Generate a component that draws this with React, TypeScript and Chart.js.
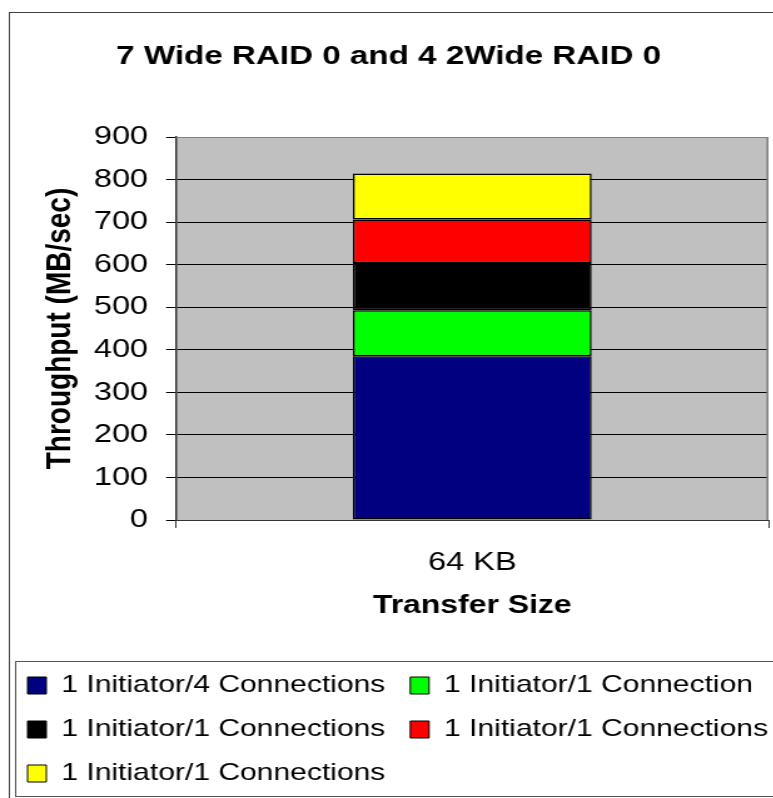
import React, { useEffect, useRef } from 'react';
import { Chart, registerables } from 'chart.js';

Chart.register(...registerables);

// ---- data ----
const categories = ['64 KB'];
const seriesLabels = [
  '1 Initiator/4 Connections',
  '1 Initiator/1 Connection',
  '1 Initiator/1 Connections',
  '1 Initiator/1 Connections',
  '1 Initiator/1 Connections',
];
const seriesColors = ['#000080', '#00FF00', '#000000', '#FF0000', '#FFFF00'];
const blueSeries = [385];
const greenSeries = [108];
const blackSeries = [111];
const redSeries = [102];
const yellowSeries = [108];
const yMin = 0;
const yMax = 900;
const yStep = 100;
const chartTitle = '7 Wide RAID 0 and 4 2Wide RAID 0';
const xTitle = 'Transfer Size';
const yTitle = 'Throughput (MB/sec)';

// ---- layout ----
const VIEW_W = 773;
const LOGICAL_VIEW_W = 618;
const SX = VIEW_W / LOGICAL_VIEW_W;
const CW = 640;
const CH = 798;
const FONT = '"Liberation Sans", Arial, Helvetica, sans-serif';

const framePlugin = {
  id: 'frame',
  afterLayout(chart: any) {
    const tb = chart.titleBlock;
    if (tb) {
      tb.left = 0;
      tb.right = LOGICAL_VIEW_W + 3;
    }
  },
  beforeDraw(chart: any) {
    const { ctx, chartArea: a } = chart;
    ctx.save();
    ctx.fillStyle = '#ffffff';
    ctx.fillRect(0, 0, chart.width, chart.height);
    ctx.strokeStyle = '#404040';
    ctx.lineWidth = 1;
    ctx.strokeRect(7.5, 12.5, chart.width + 20, chart.height + 20);
    ctx.fillStyle = '#C0C0C0';
    ctx.fillRect(a.left, a.top, a.right - a.left, a.bottom - a.top);
    const lg = chart.legend;
    if (lg) {
      ctx.strokeStyle = '#555555';
      ctx.strokeRect(12.5, lg.top + 8, chart.width + 20, lg.bottom - lg.top - 7);
    }
    ctx.restore();
  },
  beforeDatasetsDraw(chart: any) {
    const { ctx, chartArea: a } = chart;
    ctx.save();
    ctx.strokeStyle = '#808080';
    ctx.lineWidth = 1;
    ctx.beginPath();
    ctx.moveTo(a.left, Math.floor(a.top) + 0.5);
    ctx.lineTo(a.right, Math.floor(a.top) + 0.5);
    ctx.stroke();
    ctx.lineWidth = 1.6;
    ctx.beginPath();
    ctx.moveTo(a.right - 0.8, a.top);
    ctx.lineTo(a.right - 0.8, a.bottom);
    ctx.stroke();
    ctx.restore();
  },
};

export default function App() {
  const ref = useRef<HTMLCanvasElement>(null);

  useEffect(() => {
    document.body.style.margin = '0';
    document.body.style.overflow = 'hidden';
    Chart.defaults.font.family = FONT;
    Chart.defaults.color = '#000000';

    const seriesData = [blueSeries, greenSeries, blackSeries, redSeries, yellowSeries];
    const datasets = seriesData.map((d, i) => ({
      label: seriesLabels[i],
      data: d,
      backgroundColor: seriesColors[i],
      borderColor: '#000000',
      borderWidth: 1.5,
      borderSkipped: false as const,
      barPercentage: 0.403,
      categoryPercentage: 1.0,
    }));

    const chart = new Chart(ref.current as HTMLCanvasElement, {
      type: 'bar',
      data: { labels: categories, datasets },
      plugins: [framePlugin],
      options: {
        responsive: false,
        animation: false,
        devicePixelRatio: 1,
        layout: { padding: { left: 2, right: 0, top: 0, bottom: 2.5 } },
        plugins: {
          tooltip: { enabled: false },
          title: {
            display: true,
            text: chartTitle,
            color: '#000000',
            font: { size: 26.5, weight: 'bold', family: FONT },
            padding: { top: 41, bottom: 64.2 },
          },
          legend: {
            display: true,
            position: 'bottom',
            align: 'start',
            labels: {
              boxWidth: 15,
              boxHeight: 17,
              padding: 20,
              color: '#000000',
              font: { size: 24, family: FONT },
              generateLabels(chart: any) {
                const items = Chart.defaults.plugins.legend.labels.generateLabels(chart);
                return items.map((it: any) => ({ ...it, lineWidth: 1 }));
              },
            },
          },
        },
        scales: {
          x: {
            type: 'category',
            stacked: true,
            offset: true,
            grid: {
              display: true,
              drawOnChartArea: false,
              drawTicks: true,
              tickLength: 8,
              color: '#333333',
              offset: true,
            },
            border: { display: true, color: '#333333', width: 1 },
            ticks: { color: '#000000', padding: 19, font: { size: 26, family: FONT } },
            title: {
              display: true,
              text: xTitle,
              color: '#000000',
              font: { size: 25.5, weight: 'bold', family: FONT },
              padding: { top: 0, bottom: 32.2 },
            },
            afterFit(s: any) {
              s.height = 133.5;
            },
          },
          y: {
            type: 'linear',
            stacked: true,
            min: yMin,
            max: yMax,
            grid: {
              color: '#000000',
              tickColor: '#000000',
              tickLength: 8,
              lineWidth: 1,
            },
            border: { display: true, color: '#333333', width: 1.5 },
            ticks: {
              stepSize: yStep,
              color: '#000000',
              padding: 14.4,
              font: { size: 26, family: FONT },
            },
            title: {
              display: true,
              text: yTitle,
              color: '#000000',
              font: { size: 28, weight: 'bold', family: FONT },
              padding: { top: 29, bottom: 0 },
            },
            afterFit(s: any) {
              s.width = 138.7;
            },
          },
          y2: {
            type: 'linear',
            position: 'right',
            display: true,
            grid: { display: false, drawTicks: false },
            border: { display: false },
            ticks: { display: false },
            afterFit(s: any) {
              s.width = CW - 614;
            },
          },
        },
      },
    } as any);

    return () => chart.destroy();
  }, []);

  return (
    <div
      style={{
        position: 'fixed',
        left: 0,
        top: 0,
        width: VIEW_W,
        height: CH,
        overflow: 'hidden',
        background: '#ffffff',
      }}
    >
      <canvas
        ref={ref}
        width={CW}
        height={CH}
        style={{ width: `${CW * SX}px`, height: `${CH}px`, display: 'block' }}
      />
    </div>
  );
}
